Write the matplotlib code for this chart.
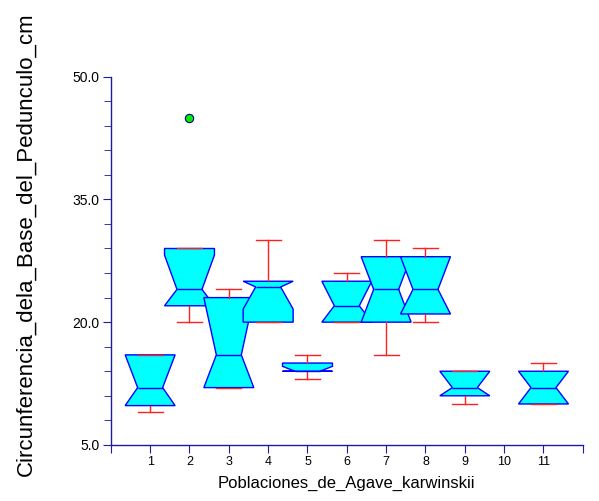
import numpy as np
import matplotlib
matplotlib.use('Agg')
import matplotlib.pyplot as plt

plt.rcParams['font.family'] = ['Liberation Sans', 'DejaVu Sans']

# poblaciones 1..11 (la 10 no tiene datos)
pops = [1, 2, 3, 4, 5, 6, 7, 8, 9, 11]
q1 = [9.8, 22, 12, 20, 14, 20, 20, 21, 11, 10]
med = [12, 24, 16, 24.3, 14, 22, 24, 24, 12, 12]
q3 = [16, 29, 23, 25, 15, 25, 28, 28, 14, 14]
wlo = [9, 20, 12, 20, 13, 20, 16, 20, 10, 10]
whi = [16, 29, 24, 30, 16, 26, 30, 29, 14, 15]
# notch limits, already cut to the box
nlo = [9.8, 22, 12, 21.6, 14, 20, 20, 21, 11, 10]
nhi = [16, 28.2, 23, 25, 14.6, 25, 28, 28, 14, 14]
outliers = {2: [45]}

xticks = list(range(13))
xlabels = [''] + [str(i) for i in range(1, 12)] + ['']
yticks = [5, 20, 35, 50]
ylabels = ['5.0', '20.0', '35.0', '50.0']

stats = []
for i, p in enumerate(pops):
    stats.append(dict(q1=q1[i], med=med[i], q3=q3[i], whislo=wlo[i], whishi=whi[i],
                      cilo=nlo[i], cihi=nhi[i], fliers=outliers.get(p, [])))

axcol = '#1c1c9c'
fig = plt.figure(figsize=(5.99, 5.01), dpi=100)
ax = fig.add_axes([0.185, 0.112, 0.788, 0.735])

ax.bxp(stats, positions=pops, widths=1.27, shownotches=True, patch_artist=True,
       manage_ticks=False,
       boxprops=dict(facecolor='#00ffff', edgecolor='#0000ff', linewidth=1),
       medianprops=dict(color='#0000ff', linewidth=1),
       whiskerprops=dict(color='#ff2020', linewidth=1),
       capprops=dict(color='#ff2020', linewidth=1),
       flierprops=dict(marker='o', markerfacecolor='#00ee00', markeredgecolor='#000080',
                       markersize=6, markeredgewidth=0.8))

ax.set_xlim(0, 12)
ax.set_ylim(5, 50)
ax.set_xticks(xticks)
ax.set_xticklabels(xlabels)
ax.set_yticks(yticks)
ax.set_yticklabels(ylabels)
ax.set_yticks(np.arange(5, 51, 3), minor=True)

for s in ['top', 'right']:
    ax.spines[s].set_visible(False)
for s in ['left', 'bottom']:
    ax.spines[s].set_color(axcol)
    ax.spines[s].set_linewidth(1)
ax.tick_params(which='both', direction='out', color=axcol, labelsize=10, pad=2)
ax.tick_params(axis='y', which='major', length=6)
ax.tick_params(axis='y', which='minor', length=5)
ax.tick_params(axis='x', length=6, labelsize=9)

ax.set_xlabel('Poblaciones_de_Agave_karwinskii', fontsize=12, labelpad=6)
ax.set_ylabel('Circunferencia_dela_Base_del_Pedunculo_cm', fontsize=16)
ax.yaxis.set_label_coords(-0.158, 0.544)

fig.savefig('out.png', dpi=100)
